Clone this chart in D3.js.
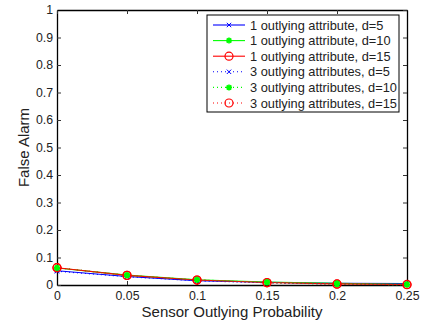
<!DOCTYPE html>
<html>
<head>
<meta charset="utf-8">
<script src="https://cdn.jsdelivr.net/npm/d3@7"></script>
<style>
  body { margin: 0; background: #fff; }
  text { font-family: "Liberation Sans", Arial, sans-serif; fill: #222; }
</style>
</head>
<body>
<div id="chart"></div>
<script>
// Data
const probs = [0, 0.05, 0.1, 0.15, 0.2, 0.25];
const labels = [
    "1 outlying attribute, d=5",
    "1 outlying attribute, d=10",
    "1 outlying attribute, d=15",
    "3 outlying attributes, d=5",
    "3 outlying attributes, d=10",
    "3 outlying attributes, d=15"
];
const one_d5 = [0.052, 0.031, 0.016, 0.010, 0.006, 0.005];
const one_d10 = [0.062, 0.036, 0.019, 0.011, 0.006, 0.003];
const one_d15 = [0.063, 0.035, 0.018, 0.009, 0.004, 0.002];
const three_d5 = [0.050, 0.030, 0.015, 0.008, 0.004, 0.002];
const three_d10 = [0.063, 0.035, 0.019, 0.009, 0.003, 0.001];
const three_d15 = [0.063, 0.035, 0.018, 0.008, 0.003, 0.001];
const xTicks = [0, 0.05, 0.1, 0.15, 0.2, 0.25];
const yTicks = [0, 0.1, 0.2, 0.3, 0.4, 0.5, 0.6, 0.7, 0.8, 0.9, 1];

const series = [
    { name: labels[0], values: one_d5, color: "#0000ff", dash: null, marker: "x" },
    { name: labels[1], values: one_d10, color: "#00ff00", dash: null, marker: "star" },
    { name: labels[2], values: one_d15, color: "#ff0000", dash: null, marker: "circle" },
    { name: labels[3], values: three_d5, color: "#0000ff", dash: "1,3", marker: "x" },
    { name: labels[4], values: three_d10, color: "#00ff00", dash: "1,3", marker: "star" },
    { name: labels[5], values: three_d15, color: "#ff0000", dash: "1,3", marker: "circle" }
];

const margin = { top: 10, right: 20, bottom: 36, left: 57 };
const width = 427 - margin.left - margin.right;
const height = 321 - margin.top - margin.bottom;

const svg = d3.select("#chart")
    .append("svg")
    .attr("width", 427)
    .attr("height", 321)
    .append("g")
    .attr("transform", `translate(${margin.left},${margin.top})`);

const x = d3.scaleLinear().domain([0, 0.25]).range([0, width]);
const y = d3.scaleLinear().domain([0, 1]).range([height, 0]);

// Axes with inward ticks (box style)
const fmt = d => d3.format("~g")(d);
const axBottom = svg.append("g")
    .attr("transform", `translate(0,${height})`)
    .call(d3.axisBottom(x).tickValues(xTicks).tickFormat(fmt).tickSizeInner(-4).tickSizeOuter(0).tickPadding(6));
const axLeft = svg.append("g")
    .call(d3.axisLeft(y).tickValues(yTicks).tickFormat(fmt).tickSizeInner(-4).tickSizeOuter(0).tickPadding(4));
const axTop = svg.append("g")
    .call(d3.axisTop(x).tickValues(xTicks).tickFormat("").tickSizeInner(-4).tickSizeOuter(0));
const axRight = svg.append("g")
    .attr("transform", `translate(${width},0)`)
    .call(d3.axisRight(y).tickValues(yTicks).tickFormat("").tickSizeInner(-4).tickSizeOuter(0));

[axBottom, axLeft, axTop, axRight].forEach(a => {
    a.select(".domain").attr("stroke", "#000").attr("stroke-width", 1.3);
    a.selectAll(".tick line").attr("stroke", "#333");
    a.selectAll("text").style("font-size", "12.3px").attr("fill", "#222");
});

// Markers
function drawMarker(g, type, color, cx, cy) {
    if (type === "x") {
        const s = 2.2;
        g.append("path")
            .attr("d", `M${cx - s},${cy - s}L${cx + s},${cy + s}M${cx - s},${cy + s}L${cx + s},${cy - s}`)
            .attr("stroke", color).attr("stroke-width", 1).attr("fill", "none");
    } else if (type === "star") {
        const s = 3;
        g.append("path")
            .attr("d", `M${cx - s},${cy}L${cx + s},${cy}M${cx},${cy - s}L${cx},${cy + s}` +
                `M${cx - 2.2},${cy - 2.2}L${cx + 2.2},${cy + 2.2}M${cx - 2.2},${cy + 2.2}L${cx + 2.2},${cy - 2.2}`)
            .attr("stroke", color).attr("stroke-width", 1.6).attr("fill", "none");
    } else {
        g.append("circle")
            .attr("cx", cx).attr("cy", cy).attr("r", 4)
            .attr("stroke", color).attr("stroke-width", 1.2).attr("fill", "none");
    }
}

const line = d3.line()
    .x((d, i) => x(probs[i]))
    .y(d => y(d));

// Lines
series.forEach(s => {
    svg.append("path")
        .datum(s.values)
        .attr("fill", "none")
        .attr("stroke", s.color)
        .attr("stroke-width", 1.1)
        .attr("stroke-dasharray", s.dash)
        .attr("d", line);
});
// Markers on top
const markerOrder = [0, 3, 2, 5, 1, 4];
markerOrder.forEach(k => {
    const s = series[k];
    const g = svg.append("g");
    s.values.forEach((v, i) => drawMarker(g, s.marker, s.color, x(probs[i]), y(v)));
});

// Axis labels
svg.append("text")
    .attr("x", width / 2)
    .attr("y", height + 32)
    .attr("text-anchor", "middle")
    .style("font-size", "15px")
    .text("Sensor Outlying Probability");

svg.append("text")
    .attr("transform", "rotate(-90)")
    .attr("x", -height / 2)
    .attr("y", -28)
    .attr("text-anchor", "middle")
    .style("font-size", "15px")
    .text("False Alarm");

// Legend
const legend = svg.append("g")
    .attr("transform", `translate(${207 - margin.left},${15 - margin.top})`);
legend.append("rect")
    .attr("width", 192)
    .attr("height", 97)
    .attr("fill", "#fff")
    .attr("stroke", "#000")
    .attr("stroke-width", 1);

series.forEach((s, i) => {
    const ly = 10 + i * 15.6;
    legend.append("line")
        .attr("x1", 6).attr("x2", 38)
        .attr("y1", ly).attr("y2", ly)
        .attr("stroke", s.color)
        .attr("stroke-width", 1.1)
        .attr("stroke-dasharray", s.dash);
    drawMarker(legend, s.marker, s.color, 22, ly);
    legend.append("text")
        .attr("x", 43)
        .attr("y", ly + 4.5)
        .style("font-size", "12.8px")
        .text(s.name);
});
</script>
</body>
</html>
